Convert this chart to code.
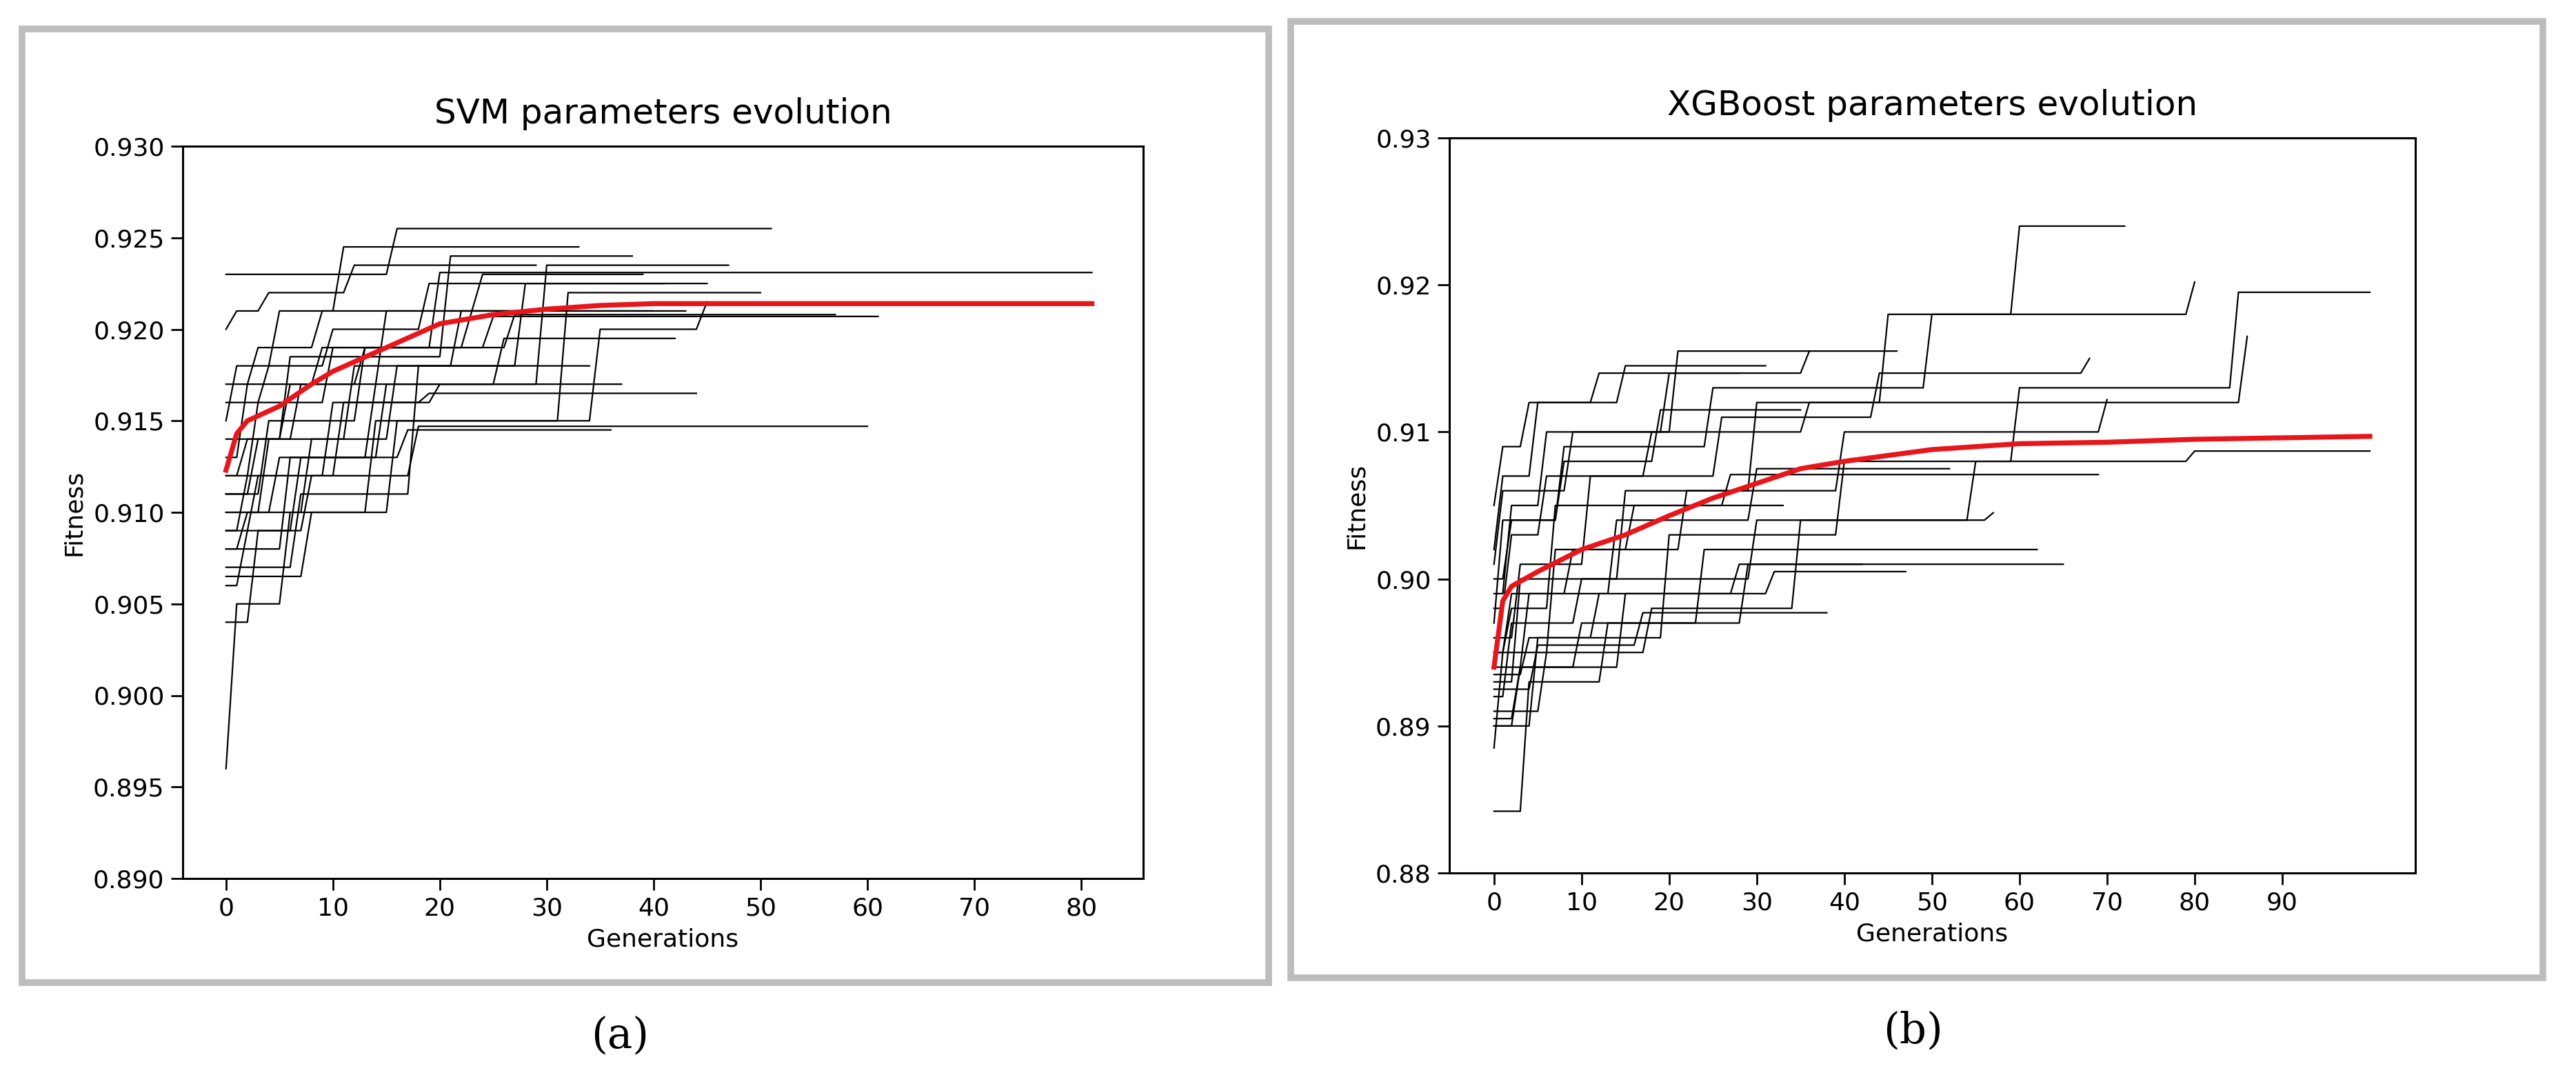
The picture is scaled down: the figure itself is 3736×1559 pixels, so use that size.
import numpy as np, pandas as pd, seaborn as sns, matplotlib
matplotlib.use("Agg")
import matplotlib.pyplot as plt
from matplotlib.patches import Rectangle

svm_gens = [[0,5,16,51],[0,3,10,20,81],[0,2,8,18,60],[0,1,6,14,35,45],[0,4,12,22,40],
    [0,6,15,30,47],[0,2,9,25,61],[0,3,7,17,36],[0,1,5,11,33],[0,4,13,27,57],[0,2,10,19,44],
    [0,7,18,28,45],[0,3,9,24,39],[0,5,14,26,42],[0,2,6,21,38],[0,8,16,32,50],[0,1,4,12,29],
    [0,3,11,20,37],[0,6,13,23,43],[0,2,8,16,34],[0,4,10,19,41],[0,3,7,15,30]]
svm_fits = [[0.923,0.923,0.9255,0.9255],[0.912,0.916,0.919,0.9231,0.9231],[0.906,0.909,0.912,0.9147,0.9147],
    [0.896,0.905,0.910,0.915,0.920,0.9215],[0.910,0.914,0.918,0.921,0.921],[0.908,0.913,0.917,0.9235,0.9235],
    [0.913,0.917,0.919,0.9207,0.9207],[0.904,0.909,0.913,0.9145,0.9145],[0.915,0.918,0.921,0.9245,0.9245],
    [0.911,0.915,0.919,0.9208,0.9208],[0.909,0.912,0.916,0.9165,0.9165],[0.907,0.911,0.918,0.9225,0.9225],
    [0.917,0.919,0.921,0.923,0.923],[0.910,0.913,0.917,0.9195,0.9195],[0.912,0.914,0.9185,0.924,0.924],
    [0.9065,0.910,0.915,0.922,0.922],[0.920,0.921,0.922,0.9235,0.9235],[0.909,0.912,0.916,0.917,0.917],
    [0.914,0.917,0.919,0.921,0.921],[0.908,0.910,0.914,0.918,0.918],[0.916,0.918,0.920,0.9225,0.9225],
    [0.911,0.914,0.917,0.921,0.921]]
svm_mean_g = [0,1,2,5,8,10,15,20,25,30,35,40,50,81]
svm_mean_f = [0.9123,0.9143,0.915,0.9158,0.917,0.9177,0.919,0.9203,0.9208,0.9211,0.9213,0.9214,0.9214,0.9214]

xgb_gens = [[0,3,15,30,45,60,72],[0,5,20,40,60,85,100],[0,2,10,30,55,80,100],[0,1,8,25,50,80],
    [0,4,12,28,42],[0,2,6,20,36],[0,3,15,32,47],[0,1,5,15,31],[0,6,18,35,57],[0,2,9,22,40,70],
    [0,4,14,30,52],[0,1,7,16,33],[0,3,11,26,44,68],[0,5,17,38],[0,2,8,19,35],[0,1,4,12,28],
    [0,3,10,24,62],[0,2,6,18,36,86],[0,4,13,29,65],[0,1,9,21,46],[0,2,7,27,69]]
xgb_fits = [[0.893,0.900,0.906,0.912,0.918,0.924,0.924],[0.890,0.896,0.903,0.908,0.913,0.9195,0.9195],
    [0.892,0.897,0.900,0.904,0.908,0.9087,0.9087],[0.897,0.904,0.909,0.913,0.918,0.9202],
    [0.8935,0.896,0.899,0.901,0.901],[0.899,0.905,0.910,0.914,0.9155],[0.890,0.894,0.899,0.9005,0.9005],
    [0.902,0.907,0.912,0.9145,0.9145],[0.891,0.895,0.898,0.904,0.9045],[0.895,0.899,0.902,0.906,0.910,0.9122],
    [0.894,0.899,0.904,0.9075,0.9075],[0.8885,0.895,0.902,0.905,0.905],[0.896,0.901,0.907,0.911,0.914,0.915],
    [0.8925,0.8955,0.8977,0.8977],[0.900,0.904,0.908,0.9115,0.9115],[0.905,0.909,0.912,0.914,0.914],
    [0.8905,0.894,0.897,0.902,0.902],[0.898,0.903,0.907,0.910,0.912,0.9165],[0.8842,0.893,0.897,0.901,0.901],
    [0.901,0.906,0.910,0.9155,0.9155],[0.895,0.898,0.905,0.9071,0.9071]]
xgb_mean_g = [0,1,2,5,10,15,20,25,30,35,40,50,60,70,80,90,100]
xgb_mean_f = [0.894,0.8985,0.8995,0.9005,0.902,0.903,0.9043,0.9055,0.9065,0.9075,0.908,0.9088,0.9092,0.9093,0.9095,0.9096,0.9097]

def frame(gens, fits):
    # best-so-far fitness held between improvements, one point per generation
    rows = []
    for i,(g,f) in enumerate(zip(gens,fits)):
        for gen in range(0, g[-1]+1):
            k = max(j for j in range(len(g)) if g[j] <= gen)
            rows.append((i, gen, f[k]))
    return pd.DataFrame(rows, columns=["run","gen","fit"])

W, H = 3736, 1559
fig = plt.figure(figsize=(W/200, H/200), dpi=200)
def px(x0, y0, x1, y1):
    return (x0/W, 1-y1/H, (x1-x0)/W, (y1-y0)/H)
for r in [px(32,42,1840,1425), px(1872,31,3688,1418)]:
    fig.patches.append(Rectangle(r[:2], r[2], r[3], transform=fig.transFigure, fill=False, edgecolor="#bdbdbd", lw=3.5))

def panel(rect, gens, fits, mg, mf, title, ylim, yticks, yfmt, xticks, xlim):
    ax = fig.add_axes(rect)
    sns.lineplot(data=frame(gens,fits), x="gen", y="fit", units="run", estimator=None,
                 color="black", lw=0.8, ax=ax)
    sns.lineplot(x=mg, y=mf, color="#e8161b", lw=2.6, ax=ax)
    ax.set_ylim(*ylim); ax.set_xlim(*xlim)
    ax.set_yticks(yticks); ax.set_yticklabels([yfmt.format(v) for v in yticks])
    ax.set_xticks(xticks)
    ax.set_title(title, fontsize=18, pad=12)
    ax.set_xlabel("Generations", fontsize=13); ax.set_ylabel("Fitness", fontsize=13)
    ax.tick_params(labelsize=13, length=6, width=1)
    for s in ax.spines.values(): s.set_linewidth(1.1)
    return ax

panel(px(265,212,1658,1274), svm_gens, svm_fits, svm_mean_g, svm_mean_f, "SVM parameters evolution",
      (0.890,0.930), np.arange(0.890,0.9301,0.005), "{:.3f}", range(0,81,10), (-4.05,85.8))
panel(px(2102,200,3503,1266), xgb_gens, xgb_fits, xgb_mean_g, xgb_mean_f, "XGBoost parameters evolution",
      (0.88,0.93), np.arange(0.88,0.9301,0.01), "{:.2f}", range(0,91,10), (-5.1,105.2))

fig.text(899/W, 1-1502/H, "(a)", ha="center", va="center", fontsize=22, family="DejaVu Serif")
fig.text(2775/W, 1-1495/H, "(b)", ha="center", va="center", fontsize=22, family="DejaVu Serif")
fig.savefig("out.png", dpi=200, facecolor="white")
